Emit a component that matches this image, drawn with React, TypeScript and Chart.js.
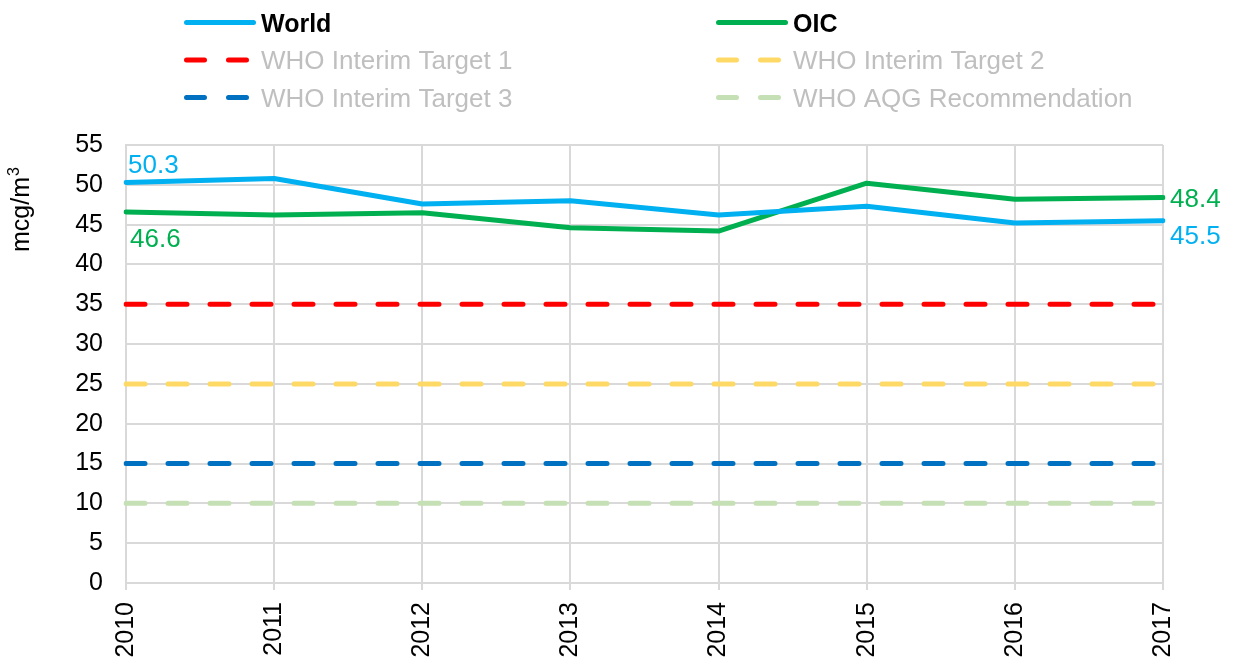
import React, { useEffect, useRef } from 'react';
import { Chart, registerables } from 'chart.js';

Chart.register(...registerables);

const years = ['2010', '2011', '2012', '2013', '2014', '2015', '2016', '2017'];
const worldValues = [50.3, 50.8, 47.6, 48.0, 46.2, 47.3, 45.2, 45.5];
const oicValues = [46.6, 46.2, 46.5, 44.6, 44.2, 50.2, 48.2, 48.4];
const target1Values = [35, 35, 35, 35, 35, 35, 35, 35];
const target2Values = [25, 25, 25, 25, 25, 25, 25, 25];
const target3Values = [15, 15, 15, 15, 15, 15, 15, 15];
const aqgValues = [10, 10, 10, 10, 10, 10, 10, 10];
const yTicks = [0, 5, 10, 15, 20, 25, 30, 35, 40, 45, 50, 55];
const yTitle = 'mcg/m';
const yTitleSup = '3';

const FONT = "'Liberation Sans', Arial, sans-serif";

const legendPlugin = {
  id: 'customLegend',
  afterDraw(chart: any) {
    const ctx = chart.ctx;
    const ds = chart.data.datasets;
    const colX = [184, 716];
    const rowY = [22.5, 60, 97.5];
    ctx.save();
    ds.forEach((d: any, i: number) => {
      const x0 = colX[i % 2];
      const y = rowY[Math.floor(i / 2)];
      ctx.strokeStyle = d.borderColor;
      ctx.lineWidth = 5;
      ctx.lineCap = 'round';
      ctx.setLineDash([]);
      ctx.beginPath();
      if (d.borderDash && d.borderDash.length) {
        ctx.moveTo(x0 + 2.5, y);
        ctx.lineTo(x0 + 20.5, y);
        ctx.moveTo(x0 + 44.5, y);
        ctx.lineTo(x0 + 62.5, y);
      } else {
        ctx.moveTo(x0 + 2.5, y);
        ctx.lineTo(x0 + 69.5, y);
      }
      ctx.stroke();
      const main = !(d.borderDash && d.borderDash.length);
      ctx.font = main ? `bold 25px ${FONT}` : `26px ${FONT}`;
      ctx.fillStyle = main ? '#000000' : '#bfbfbf';
      ctx.textAlign = 'left';
      ctx.textBaseline = 'alphabetic';
      ctx.fillText(d.label, x0 + 77, y + 9);
    });
    ctx.restore();
  },
};

const titlePlugin = {
  id: 'yTitle',
  afterDraw(chart: any) {
    const ctx = chart.ctx;
    ctx.save();
    ctx.translate(29, 252);
    ctx.rotate(-Math.PI / 2);
    ctx.fillStyle = '#000000';
    ctx.textAlign = 'left';
    ctx.textBaseline = 'alphabetic';
    ctx.font = `25px ${FONT}`;
    ctx.fillText(yTitle, 0, 0);
    const w = ctx.measureText(yTitle).width;
    ctx.font = `16px ${FONT}`;
    ctx.fillText(yTitleSup, w + 1, -10);
    ctx.restore();
  },
};

const labelPlugin = {
  id: 'endLabels',
  afterDatasetsDraw(chart: any) {
    const ctx = chart.ctx;
    const w = chart.getDatasetMeta(0).data;
    const o = chart.getDatasetMeta(1).data;
    const last = years.length - 1;
    ctx.save();
    ctx.font = `26px ${FONT}`;
    ctx.textAlign = 'left';
    ctx.textBaseline = 'alphabetic';
    ctx.fillStyle = '#00b0f0';
    ctx.fillText(worldValues[0].toFixed(1), w[0].x + 2, w[0].y - 9);
    ctx.fillText(worldValues[last].toFixed(1), w[last].x + 7, w[last].y + 23);
    ctx.fillStyle = '#00b050';
    ctx.fillText(oicValues[0].toFixed(1), o[0].x + 4, o[0].y + 35);
    ctx.fillText(oicValues[last].toFixed(1), o[last].x + 7, o[last].y + 9.5);
    ctx.restore();
  },
};

export default function App() {
  const ref = useRef<HTMLCanvasElement>(null);
  useEffect(() => {
    document.body.style.margin = '0';
    const dashed = (label: string, data: number[], color: string) => ({
      label,
      data,
      borderColor: color,
      backgroundColor: color,
      borderWidth: 5,
      borderDash: [19, 23],
      borderCapStyle: 'round' as const,
      pointRadius: 0,
      fill: false,
      tension: 0,
    });
    const chart = new Chart(ref.current as HTMLCanvasElement, {
      type: 'line',
      data: {
        labels: years,
        datasets: [
          { label: 'World', data: worldValues, borderColor: '#00b0f0', backgroundColor: '#00b0f0', borderWidth: 5, pointRadius: 0, borderCapStyle: 'round', borderJoinStyle: 'round', fill: false, tension: 0 },
          { label: 'OIC', data: oicValues, borderColor: '#00b050', backgroundColor: '#00b050', borderWidth: 5, pointRadius: 0, borderCapStyle: 'round', borderJoinStyle: 'round', fill: false, tension: 0 },
          dashed('WHO Interim Target 1', target1Values, '#ff0000'),
          dashed('WHO Interim Target 2', target2Values, '#ffd966'),
          dashed('WHO Interim Target 3', target3Values, '#0070c0'),
          dashed('WHO AQG Recommendation', aqgValues, '#c5e0b4'),
        ],
      } as any,
      options: {
        responsive: false,
        animation: false,
        devicePixelRatio: 1,
        layout: { padding: { top: 145, right: 74, left: 0, bottom: 0 } },
        plugins: { legend: { display: false }, tooltip: { enabled: false }, title: { display: false } },
        scales: {
          x: {
            type: 'category',
            offset: false,
            grid: { color: '#d9d9d9', lineWidth: 2, drawTicks: true, tickLength: 7, tickColor: '#d9d9d9' },
            border: { color: '#d9d9d9', width: 2 },
            ticks: {
              minRotation: 90,
              maxRotation: 90,
              autoSkip: false,
              padding: 12,
              color: '#000000',
              font: { family: FONT, size: 25 },
            },
            afterFit(scale: any) {
              scale.height = 77;
            },
          },
          y: {
            min: 0,
            max: 55,
            afterBuildTicks(scale: any) {
              scale.ticks = yTicks.map((v) => ({ value: v }));
            },
            grid: { color: '#d9d9d9', lineWidth: 2, drawTicks: false },
            border: { color: '#d9d9d9', width: 2 },
            ticks: {
              padding: 23,
              color: '#000000',
              font: { family: FONT, size: 25 },
            },
            afterFit(scale: any) {
              scale.width = 126;
            },
          },
        },
      } as any,
      plugins: [legendPlugin, titlePlugin, labelPlugin],
    });
    return () => chart.destroy();
  }, []);
  return (
    <div style={{ width: 1237, height: 660 }}>
      <canvas ref={ref} width={1237} height={660} style={{ display: 'block' }} />
    </div>
  );
}
